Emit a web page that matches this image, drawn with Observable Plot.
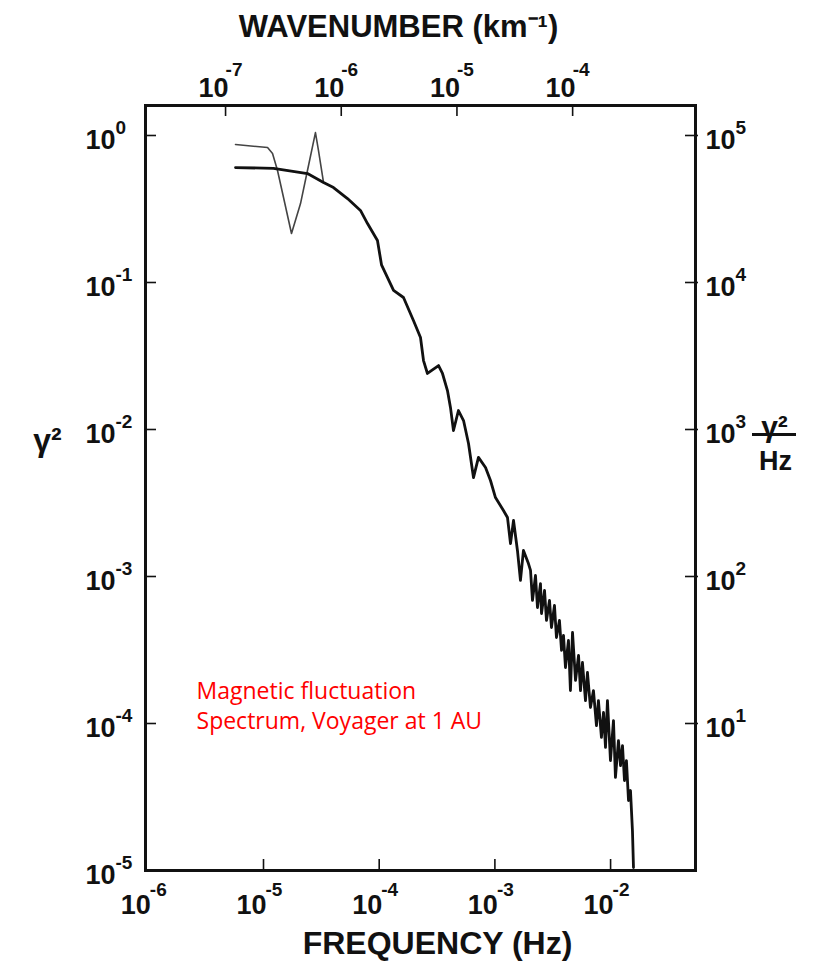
<!DOCTYPE html>
<html><head><meta charset="utf-8">
<script src="https://cdn.jsdelivr.net/npm/d3@7"></script>
<script src="https://cdn.jsdelivr.net/npm/@observablehq/plot@0.6"></script>
<style>body{margin:0;background:#fff} svg{display:block}</style>
</head><body><div id="chart"></div>
<script>
// Main spectrum: log10(frequency, Hz) and log10(power, gamma^2)
const mainLogFreq = [-5.242,-4.914,-4.620,-4.481,-4.395,-4.274,-4.162,-4.101,-4.015,-3.980,-3.876,-3.790,-3.704,-3.643,-3.617,-3.583,-3.487,-3.453,-3.410,-3.384,-3.358,-3.315,-3.271,-3.228,-3.185,-3.142,-3.081,-3.038,-2.995,-2.926,-2.891,-2.865,-2.839,-2.805,-2.779,-2.753,-2.710,
  -2.692,-2.675,-2.649,-2.632,-2.606,-2.597,-2.571,-2.554,-2.528,-2.511,-2.485,-2.468,-2.442,-2.424,-2.407,-2.390,-2.364,-2.347,-2.329,-2.303,-2.277,-2.260,-2.243,-2.217,-2.200,-2.174,-2.148,-2.122,-2.105,-2.079,-2.061,-2.044,-2.027,-2.001,-1.975,-1.958,-1.932,-1.914,-1.897,-1.880,-1.863,-1.845,-1.828,-1.811,-1.802];
const mainLogPower = [-0.218,-0.224,-0.259,-0.320,-0.354,-0.429,-0.510,-0.599,-0.714,-0.880,-1.054,-1.102,-1.259,-1.374,-1.531,-1.619,-1.565,-1.619,-1.735,-1.850,-2.007,-1.871,-1.939,-2.095,-2.327,-2.190,-2.259,-2.347,-2.463,-2.551,-2.599,-2.776,-2.619,-2.823,-3.027,-2.823,-2.912,
  -2.959,-3.163,-2.993,-3.211,-3.048,-3.252,-3.095,-3.299,-3.163,-3.347,-3.197,-3.415,-3.299,-3.503,-3.401,-3.619,-3.435,-3.776,-3.381,-3.707,-3.537,-3.776,-3.585,-3.844,-3.653,-3.891,-3.776,-4.014,-3.844,-4.095,-3.925,-4.163,-3.844,-4.252,-3.980,-4.367,-4.116,-4.286,-4.150,-4.388,-4.252,-4.524,-4.456,-4.728,-4.980];
// Second (thin) low-frequency trace
const secLogFreq = [-5.242,-4.965,-4.922,-4.879,-4.827,-4.758,-4.680,-4.620,-4.551,-4.525,-4.481];
const secLogPower = [-0.061,-0.082,-0.122,-0.238,-0.422,-0.667,-0.463,-0.238,0.020,-0.102,-0.320];

// Axis ticks
const freqTicks = [1e-6,1e-5,1e-4,1e-3,1e-2];
const freqExp = ["-6","-5","-4","-3","-2"];
const powerTicks = [1,1e-1,1e-2,1e-3,1e-4,1e-5];
const powerExp = ["0","-1","-2","-3","-4","-5"];
const waveTicks = [1e-7,1e-6,1e-5,1e-4];
const waveExp = ["-7","-6","-5","-4"];
const psdTicks = [1e1,1e2,1e3,1e4,1e5];
const psdExp = ["1","2","3","4","5"];
const waveToFreq = 10 ** 1.672;
const psdPerPower = 1e5;
const psdUnitLevel = [1e3];       // right-hand unit label sits level with the 10^3 tick

const noteText = "Magnetic fluctuation\nSpectrum, Voyager at 1 AU";
const noteAt = {f: 10 ** -5.579, p: 10 ** -3.69};

const mainData = mainLogFreq.map((lf, i) => ({f: 10 ** lf, p: 10 ** mainLogPower[i]}));
const secData = secLogFreq.map((lf, i) => ({f: 10 ** lf, p: 10 ** secLogPower[i]}));

const W = 826, H = 964, mL = 145, mR = 131, mT = 105, mB = 94;
const pW = W - mL - mR, pH = H - mT - mB;
const font = "Liberation Sans, Arial, sans-serif";
const base = {fontFamily: font, fontWeight: "bold", fill: "#111", lineAnchor: "middle"};

const chart = Plot.plot({
  width: W, height: H,
  marginLeft: mL, marginRight: mR, marginTop: mT, marginBottom: mB,
  x: {type: "log", domain: [10 ** -6.02, 10 ** -1.266], axis: null},
  y: {type: "log", domain: [1e-5, 10 ** 0.204], axis: null},
  style: {background: "#fff"},
  marks: [
    Plot.frame({stroke: "#111", strokeWidth: 3}),
    // ticks
    Plot.tickX(freqTicks.slice(1), {x: d => d, insetTop: pH - 11, stroke: "#111", strokeWidth: 1.6}),
    Plot.tickX(waveTicks, {x: d => d * waveToFreq, insetBottom: pH - 11, stroke: "#111", strokeWidth: 1.6}),
    Plot.tickY(powerTicks.slice(0, -1), {y: d => d, insetRight: pW - 11, stroke: "#111", strokeWidth: 1.6}),
    Plot.tickY(psdTicks, {y: d => d / psdPerPower, insetLeft: pW - 10, insetRight: -3, stroke: "#111", strokeWidth: 1.6}),
    // bottom labels
    Plot.text(freqTicks, {...base, x: d => d, frameAnchor: "bottom", text: () => "10", textAnchor: "end", dx: 3, dy: 35, fontSize: 27}),
    Plot.text(freqTicks, {...base, x: d => d, frameAnchor: "bottom", text: (d, i) => freqExp[i], textAnchor: "start", dy: 19, dx: 2, fontSize: 19}),
    // top labels
    Plot.text(waveTicks, {...base, x: d => d * waveToFreq, frameAnchor: "top", text: () => "10", textAnchor: "end", dy: -17, dx: 3, fontSize: 27}),
    Plot.text(waveTicks, {...base, x: d => d * waveToFreq, frameAnchor: "top", text: (d, i) => waveExp[i], textAnchor: "start", dy: -36, dx: 0, fontSize: 19}),
    // left labels
    Plot.text(powerTicks, {...base, y: d => d, frameAnchor: "left", text: () => "10", textAnchor: "end", dx: -30, dy: 5, fontSize: 27}),
    Plot.text(powerTicks, {...base, y: d => d, frameAnchor: "left", text: (d, i) => powerExp[i], textAnchor: "start", dx: -30, dy: -8, fontSize: 19}),
    // right labels
    Plot.text(psdTicks, {...base, y: d => d / psdPerPower, frameAnchor: "right", text: () => "10", textAnchor: "start", dx: 10, dy: 5, fontSize: 27}),
    Plot.text(psdTicks, {...base, y: d => d / psdPerPower, frameAnchor: "right", text: (d, i) => psdExp[i], textAnchor: "start", dx: 40, dy: -8, fontSize: 19}),
    // titles
    Plot.text(["WAVENUMBER (km⁻¹)"], {...base, frameAnchor: "top", textAnchor: "middle", dx: -22, dy: -78, fontSize: 31}),
    Plot.text(["FREQUENCY (Hz)"], {...base, frameAnchor: "bottom", textAnchor: "middle", dx: 17, dy: 73, fontSize: 32}),
    Plot.text(["γ²"], {...base, frameAnchor: "left", textAnchor: "middle", dx: -98, dy: -47, fontSize: 32}),
    Plot.text(["γ²"], {...base, frameAnchor: "right", textAnchor: "middle", dx: 79, dy: -61, fontSize: 30}),
    Plot.tickY(psdUnitLevel, {y: d => d / psdPerPower, insetLeft: pW + 57, insetRight: -101, dy: 5, stroke: "#111", strokeWidth: 3}),
    Plot.text(["Hz"], {...base, frameAnchor: "right", textAnchor: "middle", dx: 80, dy: -27, fontSize: 27}),
    // data
    Plot.line(secData, {x: "f", y: "p", stroke: "#444", strokeWidth: 1.6, strokeLinejoin: "round"}),
    Plot.line(mainData, {x: "f", y: "p", stroke: "#111", strokeWidth: 2.8, strokeLinejoin: "round", strokeLinecap: "round"}),
    // annotation
    Plot.text([noteText], {x: () => noteAt.f, y: () => noteAt.p, textAnchor: "start", lineAnchor: "top", lineHeight: 1.3, fill: "#ff0000", fontSize: 23, fontFamily: "Open Sans, sans-serif"})
  ]
});
document.getElementById("chart").appendChild(chart);
</script>
</body></html>
